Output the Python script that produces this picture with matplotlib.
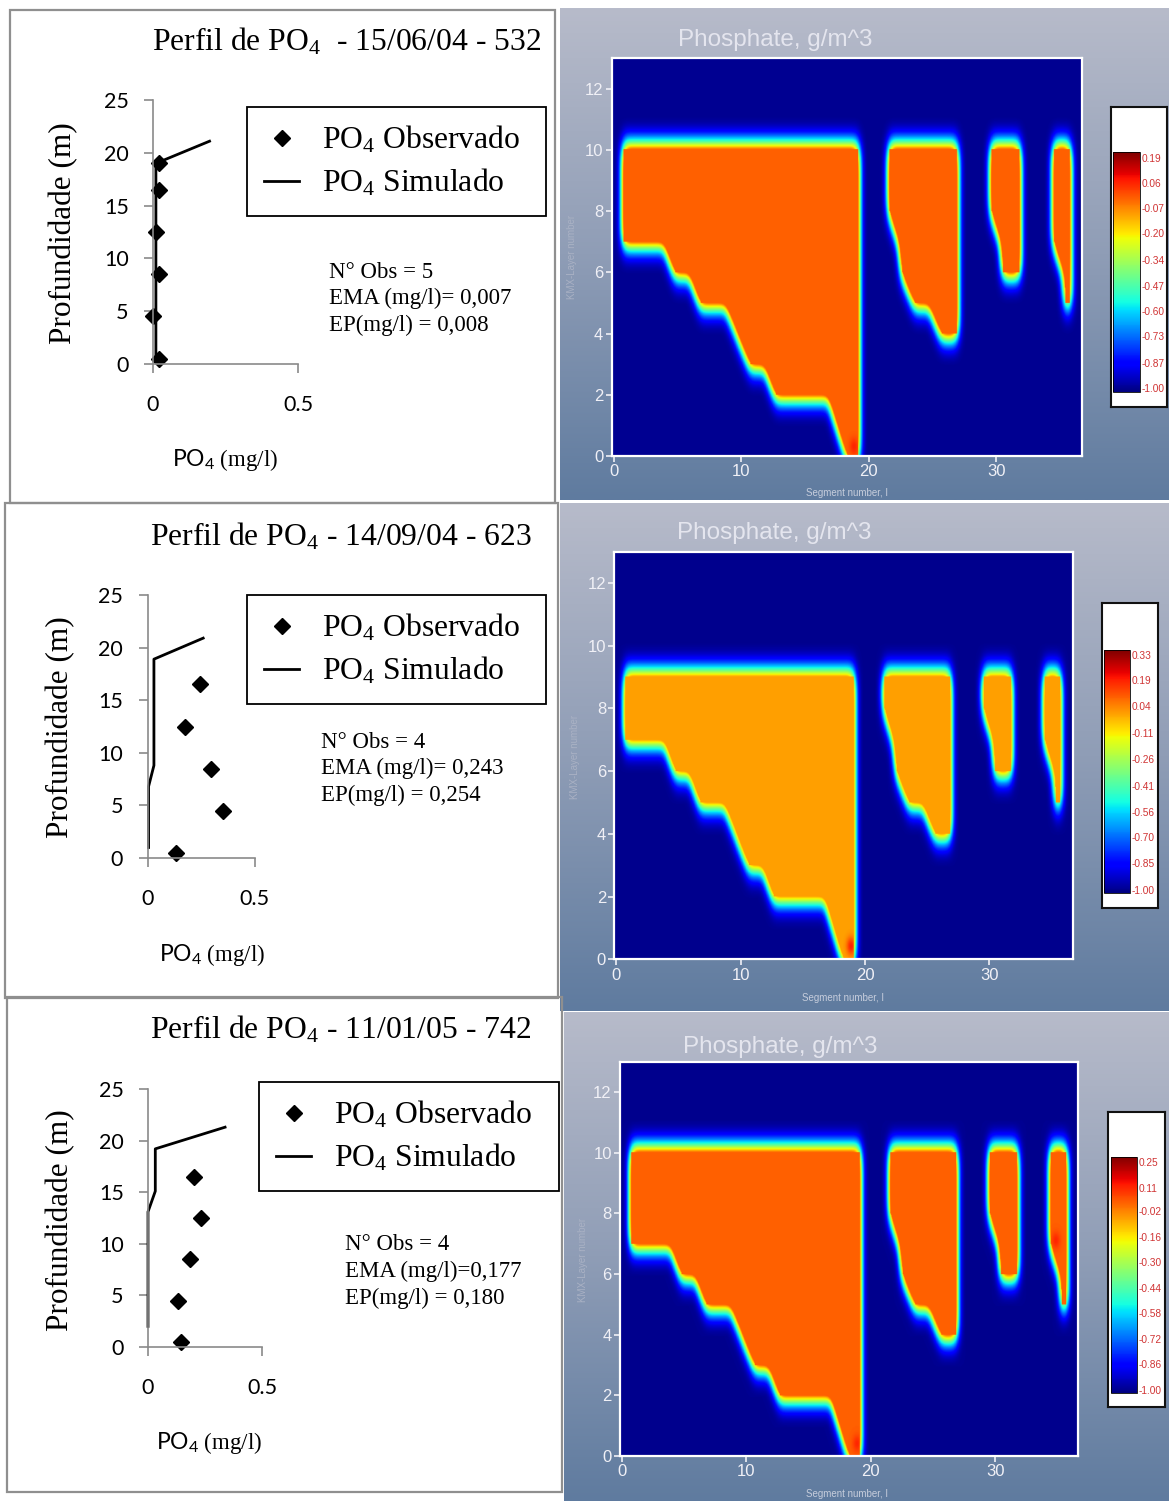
#!/usr/bin/env python3
import numpy as np
import matplotlib
matplotlib.use("Agg")
import matplotlib.pyplot as plt
from matplotlib.colors import LinearSegmentedColormap
from matplotlib.lines import Line2D
from matplotlib.patches import Rectangle

### setup ###
plt.rcParams["mathtext.fontset"] = "custom"
plt.rcParams["mathtext.rm"] = "Liberation Serif"
plt.rcParams["mathtext.it"] = "Liberation Serif:italic"
plt.rcParams["mathtext.sf"] = "Lato"
SERIF = "Liberation Serif"
SANS = "Lato"
NARROW = ["Liberation Sans Narrow", "Liberation Sans"]
W, H = 1169, 1501

### profile data: PO4 (mg/l) vs depth (m) ###
titles = ["Perfil de PO$_4$  - 15/06/04 - 532",
          "Perfil de PO$_4$ - 14/09/04 - 623",
          "Perfil de PO$_4$ - 11/01/05 - 742"]

obs_depth_1 = [19, 16.5, 12.5, 8.5, 4.5, 0.5]
obs_po4_1 = [0.02, 0.02, 0.01, 0.02, 0.0, 0.02]
sim_depth_1 = [0.3, 19.0, 21.1]
sim_po4_1 = [0.01, 0.01, 0.195]

obs_depth_2 = [16.5, 12.5, 8.5, 4.5, 0.5]
obs_po4_2 = [0.245, 0.173, 0.295, 0.354, 0.132]
sim_depth_2 = [1.0, 6.8, 8.8, 18.9, 20.9]
sim_po4_2 = [0.005, 0.005, 0.03, 0.03, 0.26]

obs_depth_3 = [16.5, 12.5, 8.5, 4.5, 0.5]
obs_po4_3 = [0.20, 0.233, 0.184, 0.131, 0.145]
sim_depth_3 = [2.0, 13.1, 15.1, 19.2, 21.3]
sim_po4_3 = [0.0, 0.0, 0.032, 0.032, 0.338]

stats_1 = ["N° Obs = 5", "EMA (mg/l)= 0,007", "EP(mg/l) = 0,008"]
stats_2 = ["N° Obs = 4", "EMA (mg/l)= 0,243", "EP(mg/l) = 0,254"]
stats_3 = ["N° Obs = 4", "EMA (mg/l)=0,177", "EP(mg/l) = 0,180"]

leg_labels = ["PO$_4$ Observado", "PO$_4$ Simulado"]
x_ticks = [0, 0.5]
x_ticklabels = ["0", "0.5"]
y_ticks = [0, 5, 10, 15, 20, 25]

### W2 model grid: water bodies (segment, bottom layer) ###
body_a_x = [0.75, 3.9, 4.8, 5.9, 6.8, 8.75, 10.7, 11.8, 12.7, 16.8, 18.3, 19.1]
body_a_bot = [7, 7, 6, 6, 5, 5, 3, 3, 2, 2, 0, 0]
body_b_x = [21.6, 22.4, 22.6, 23.6, 24.7, 25.7, 26.9]
body_b_bot = [8, 7, 6, 5, 5, 4, 4]
body_c_x = [29.6, 30.4, 30.5, 31.8]
body_c_bot = [8, 7, 6, 6]
body_d_x = [34.5, 35.3, 35.4, 35.7]
body_d_bot = [7, 6, 5, 5]
bodies = [(body_a_x, body_a_bot), (body_b_x, body_b_bot),
          (body_c_x, body_c_bot), (body_d_x, body_d_bot)]

surface_layer = [10, 9, 10]
phosphate = [-0.02, 0.0, 0.03]
# small hot spots (segment, layer, value) per panel
hot_1 = [(18.8, 0.3, 0.06)]
hot_2 = [(18.9, 0.4, 0.19)]
hot_3 = [(18.9, 0.4, 0.11), (34.9, 7.1, 0.11)]
cb_labels_1 = ["0.19", "0.06", "-0.07", "-0.20", "-0.34", "-0.47", "-0.60", "-0.73", "-0.87", "-1.00"]
cb_labels_2 = ["0.33", "0.19", "0.04", "-0.11", "-0.26", "-0.41", "-0.56", "-0.70", "-0.85", "-1.00"]
cb_labels_3 = ["0.25", "0.11", "-0.02", "-0.16", "-0.30", "-0.44", "-0.58", "-0.72", "-0.86", "-1.00"]
cb_range = [(-1.02, 0.22), (-1.02, 0.36), (-1.02, 0.28)]
seg_ticks = [0, 10, 20, 30]
layer_ticks = [0, 2, 4, 6, 8, 10, 12]

### layout (pixels: left, top, right, bottom) ###
box_rects = [(10, 10, 555, 503), (5, 503, 558, 998), (7, 997, 562, 1492)]
prof_rects = [(153, 100, 298, 364), (147.5, 595, 254.6, 858), (148, 1089, 262, 1347)]
title_xy = [(152, 42), (150, 537), (150, 1030)]
ylab_xy = [(64, 233), (61, 727), (61, 1220)]
xlab_xy = [(225, 460), (212, 955), (209, 1443)]
leg_rects = [(247, 107, 546), (247, 595, 546), (259, 1082, 559)]
stats_xy = [(329, 272), (321, 742), (345, 1245)]

bg_rects = [(560, 8, 1169, 500), (560, 503, 1169, 1011), (564, 1012, 1169, 1501)]
map_rects = [(611.6, 58, 1081.5, 456), (614.4, 551.7, 1072.6, 959.3), (620.2, 1061.7, 1078.4, 1456)]
map_title_xy = [(775, 40), (774, 533), (780, 1047)]
map_xlab_xy = [(847, 493), (843, 998), (847, 1494)]
map_ylab_xy = [(572, 257), (575, 757), (583, 1260)]
cbox_rects = [(1111, 107, 1167, 407), (1101.7, 603.3, 1158, 908.3), (1108.3, 1111.7, 1165, 1407.3)]
grad_rects = [(1113.4, 152, 1139.8, 392), (1103.7, 650, 1130, 893.3), (1110.7, 1156.7, 1136.7, 1393.3)]


def frac(l, t, r, b):
    return [l / W, 1 - b / H, (r - l) / W, (b - t) / H]


def gauss_blur(a, sx, sy):
    def kern(s):
        n = int(3 * s)
        k = np.exp(-0.5 * (np.arange(-n, n + 1) / s) ** 2)
        return k / k.sum()
    kx, ky = kern(sx), kern(sy)
    a = np.apply_along_axis(lambda r: np.convolve(r, kx, mode="same"), 1, a)
    a = np.apply_along_axis(lambda c: np.convolve(c, ky, mode="same"), 0, a)
    return a


fig = plt.figure(figsize=(W / 100, H / 100), dpi=100)

### left: profiles ###
obs_po4 = [obs_po4_1, obs_po4_2, obs_po4_3]
obs_depth = [obs_depth_1, obs_depth_2, obs_depth_3]
sim_po4 = [sim_po4_1, sim_po4_2, sim_po4_3]
sim_depth = [sim_depth_1, sim_depth_2, sim_depth_3]
stats = [stats_1, stats_2, stats_3]

for i in range(3):
    l, t, r, b = box_rects[i]
    fig.patches.append(Rectangle((l / W, 1 - b / H), (r - l) / W, (b - t) / H,
                                 transform=fig.transFigure, fill=False,
                                 ec="#8f8f8f", lw=1.6))
    ax = fig.add_axes(frac(*prof_rects[i]))
    ax.patch.set_alpha(0)
    ax.plot(sim_po4[i], sim_depth[i], color="k", lw=2.0, clip_on=False)
    ax.plot(obs_po4[i], obs_depth[i], ls="none", marker="D", ms=8,
            color="k", clip_on=False)
    ax.set_xlim(0, 0.5)
    ax.set_ylim(0, 25)
    ax.set_xticks(x_ticks)
    ax.set_xticklabels(x_ticklabels)
    ax.set_yticks(y_ticks)
    for s in ("top", "right"):
        ax.spines[s].set_visible(False)
    for s in ("left", "bottom"):
        ax.spines[s].set_color("#8a8a8a")
        ax.spines[s].set_linewidth(1.2)
    ax.tick_params(color="#8a8a8a", length=6.5, width=1.2, labelsize=15.5)
    ax.tick_params(axis="x", pad=16)
    ax.tick_params(axis="y", pad=11)
    for lab in ax.get_xticklabels() + ax.get_yticklabels():
        lab.set_fontfamily(SANS)

    x, y = title_xy[i]
    fig.text(x / W, 1 - y / H, titles[i], ha="left", va="center",
             family=SERIF, fontsize=22.8)
    x, y = ylab_xy[i]
    fig.text(x / W, 1 - y / H, "Profundidade (m)", rotation=90,
             ha="center", va="center", family=SERIF, fontsize=22.5)
    x, y = xlab_xy[i]
    fig.text(x / W, 1 - y / H, r"$\mathsf{PO_4}$ (mg/l)", ha="center",
             va="center", family=SERIF, fontsize=16.5)

    handles = [Line2D([], [], ls="none", marker="D", ms=8, color="k"),
               Line2D([], [], color="k", lw=2.0)]
    l, t, r = leg_rects[i]
    leg = ax.legend(handles, leg_labels, loc="upper left",
                    bbox_to_anchor=(l / W, 1 - t / H, (r - l) / W, 0),
                    bbox_transform=fig.transFigure, mode="expand",
                    borderaxespad=0, fancybox=False, framealpha=1,
                    edgecolor="k", borderpad=0.55, labelspacing=0.36,
                    handlelength=1.1, handletextpad=0.72,
                    prop={"family": SERIF, "size": 22.8})
    leg.get_frame().set_linewidth(1.3)

    x, y = stats_xy[i]
    for j, line in enumerate(stats[i]):
        fig.text(x / W, 1 - (y + 26.5 * j) / H, line, ha="left", va="center",
                 family=SERIF, fontsize=16.5)

### right: W2 phosphate sections ###
bg_cmap = LinearSegmentedColormap.from_list("bg", ["#b7bbca", "#8f9db6", "#5f7b9f"])
xg = np.arange(-0.15, 36.7, 0.05)
yg = np.arange(0, 13.0, 0.025)
X, Y = np.meshgrid(xg, yg)
cb_labels = [cb_labels_1, cb_labels_2, cb_labels_3]
hot_spots = [hot_1, hot_2, hot_3]

for i in range(3):
    bg = fig.add_axes(frac(*bg_rects[i]))
    bg.imshow(np.linspace(0, 1, 256)[:, None], aspect="auto", cmap=bg_cmap,
              extent=[0, 1, 0, 1])
    bg.set_axis_off()

    water = np.zeros_like(X, dtype=bool)
    for bx, bb in bodies:
        water |= ((X >= bx[0]) & (X <= bx[-1]) & (Y <= surface_layer[i])
                  & (Y >= np.interp(X, bx, bb)))
    water = water.astype(float)
    fringe = np.clip(2 * gauss_blur(water, 5, 14), 0, 1) ** 0.8
    frac_field = np.maximum(water, fringe)
    field = -1 + (phosphate[i] + 1) * frac_field
    for hx, hy, hv in hot_spots[i]:
        spot = np.exp(-0.5 * (((X - hx) / 0.25) ** 2 + ((Y - hy) / 0.2) ** 2))
        field = np.where(water > 0, field + (hv - phosphate[i]) * spot, field)

    ax = fig.add_axes(frac(*map_rects[i]))
    vmin, vmax = cb_range[i]
    im = ax.imshow(field, extent=[xg[0], xg[-1], yg[0], yg[-1]], origin="lower",
                   aspect="auto", cmap="jet", vmin=vmin, vmax=vmax,
                   interpolation="bilinear")
    ax.set_xlim(-0.15, 36.7)
    ax.set_ylim(0, 13)
    ax.set_xticks(seg_ticks)
    ax.set_yticks(layer_ticks)
    for s in ax.spines.values():
        s.set_color("white")
        s.set_linewidth(1.6)
    ax.tick_params(colors="#f0f0f6", length=4, width=1.2, labelsize=12, pad=2)
    for lab in ax.get_xticklabels() + ax.get_yticklabels():
        lab.set_fontfamily(NARROW)

    x, y = map_title_xy[i]
    fig.text(x / W, 1 - y / H, "Phosphate, g/m^3", ha="center", va="center",
             color="#e4e5ee", family=NARROW, fontsize=17.5)
    x, y = map_xlab_xy[i]
    fig.text(x / W, 1 - y / H, "Segment number, I", ha="center", va="center",
             color="#c6cddc", family=NARROW, fontsize=7)
    x, y = map_ylab_xy[i]
    fig.text(x / W, 1 - y / H, "KMX-Layer number", rotation=90, ha="center",
             va="center", color="#a9b1c4", family=NARROW, fontsize=7)

    box = fig.add_axes(frac(*cbox_rects[i]))
    box.set_facecolor("white")
    box.set_xticks([])
    box.set_yticks([])
    for s in box.spines.values():
        s.set_color("#111111")
        s.set_linewidth(1.5)
    cax = fig.add_axes(frac(*grad_rects[i]))
    cb = fig.colorbar(im, cax=cax, ticks=[float(v) for v in cb_labels[i]])
    cb.set_ticklabels(cb_labels[i])
    cb.outline.set_linewidth(0.6)
    cax.tick_params(length=0, pad=1.2, labelsize=7.3, labelcolor="#d03434")
    for lab in cax.get_yticklabels():
        lab.set_fontfamily(NARROW)

fig.savefig("out.png", dpi=100)
